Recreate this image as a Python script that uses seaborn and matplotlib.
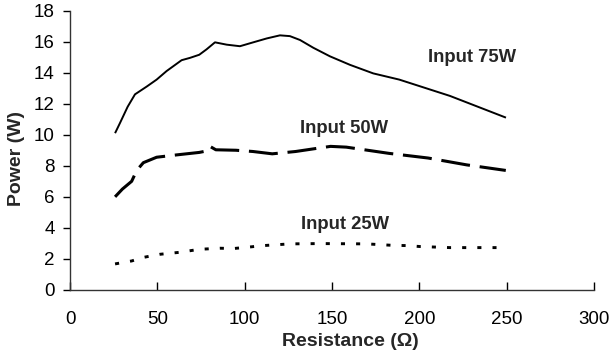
import matplotlib
matplotlib.use("Agg")
import matplotlib.pyplot as plt
import seaborn as sns
import numpy as np
import pandas as pd

# ---- data ----
r75 = [25.8, 28.6, 33.0, 37.2, 43.9, 49.6, 55.3, 63.9, 68.7, 74.0, 78.2, 83.0, 89.7,
       97.3, 104.9, 112.6, 120.2, 125.9, 131.7, 139.3, 148.8, 160.3, 173.6, 188.5,
       217.5, 249.6]
p75 = [10.1, 10.75, 11.8, 12.6, 13.1, 13.55, 14.1, 14.8, 14.95, 15.15, 15.5, 15.95, 15.8,
       15.7, 15.95, 16.2, 16.4, 16.35, 16.1, 15.6, 15.05, 14.5, 13.95, 13.55,
       12.5, 11.1]

r50 = [25.8, 30.0, 35.3, 38.2, 42.0, 49.6, 61.0, 74.0, 78.0, 80.1, 83.5, 95.0, 104.7,
       115.8, 129.2, 140.0, 149.2, 158.2, 182.6, 205.0, 227.0, 249.5]
p50 = [6.0, 6.5, 7.0, 7.7, 8.2, 8.55, 8.7, 8.86, 8.95, 9.25, 9.03, 9.0, 8.92,
       8.77, 8.92, 9.1, 9.25, 9.2, 8.8, 8.5, 8.06, 7.7]

r25 = [25.8, 35.3, 42.0, 51.5, 63.0, 74.0, 85.9, 93.5, 101.1, 110.7, 125.9, 143.0,
       169.8, 184.1, 192.7, 200.3, 217.5, 244.2]
p25 = [1.68, 1.87, 2.1, 2.3, 2.43, 2.62, 2.69, 2.67, 2.75, 2.86, 2.97, 2.99,
       2.97, 2.88, 2.86, 2.8, 2.73, 2.73]

series_names = ["Input 75W", "Input 50W", "Input 25W"]
x_ticks = [0, 50, 100, 150, 200, 250, 300]
y_ticks = [0, 2, 4, 6, 8, 10, 12, 14, 16, 18]

df75 = pd.DataFrame({"Resistance": r75, "Power": p75})
df50 = pd.DataFrame({"Resistance": r50, "Power": p50})
df25 = pd.DataFrame({"Resistance": r25, "Power": p25})

sns.set_style("white")
plt.rcParams["font.family"] = ["Liberation Sans", "DejaVu Sans"]

fig = plt.figure(figsize=(6.1, 3.63), dpi=100)
ax = fig.add_axes([70 / 610, 1 - 290 / 363, 524 / 610, (290 - 10.5) / 363])

sns.lineplot(data=df75, x="Resistance", y="Power", ax=ax, color="black",
             linewidth=1.4, estimator=None, sort=False)
sns.lineplot(data=df50, x="Resistance", y="Power", ax=ax, color="black",
             linewidth=2.2, estimator=None, sort=False)
ax.lines[-1].set_dashes((9.5, 3.2))
sns.lineplot(data=df25, x="Resistance", y="Power", ax=ax, color="black",
             linewidth=2.1, estimator=None, sort=False)
ax.lines[-1].set_dashes((1.4, 3.8))
for ln in ax.lines:
    ln.set_solid_capstyle("butt")
    ln.set_dash_capstyle("butt")

ax.set_xlim(0, 300)
ax.set_ylim(0, 18)
ax.set_xticks(x_ticks)
ax.set_yticks(y_ticks)

ax.set_xticklabels([str(t) for t in x_ticks], fontsize=13.5)
ax.set_yticklabels([str(t) for t in y_ticks], fontsize=13.5)

for s in ["top", "right"]:
    ax.spines[s].set_visible(False)
for s in ["left", "bottom"]:
    ax.spines[s].set_color("#333333")
    ax.spines[s].set_linewidth(1.0)

ax.tick_params(axis="x", direction="in", length=6, width=1, pad=15, colors="black",
               bottom=True)
ax.tick_params(axis="y", direction="out", length=5, width=1, pad=6, colors="black",
               left=True)

ax.set_xlabel("Resistance (Ω)", fontsize=14, fontweight="bold")
ax.set_ylabel("Power (W)", fontsize=14, fontweight="bold")
ax.xaxis.set_label_coords(0.536, -0.155)
ax.yaxis.set_label_coords(-0.086, 0.47)

label_pos = [(230, 15.0), (156.8, 10.4), (157.4, 4.25)]
for name, (lx, ly) in zip(series_names, label_pos):
    ax.text(lx, ly, name, fontsize=13.3, fontweight="bold", ha="center", va="center")

fig.savefig("out.png", dpi=100)
